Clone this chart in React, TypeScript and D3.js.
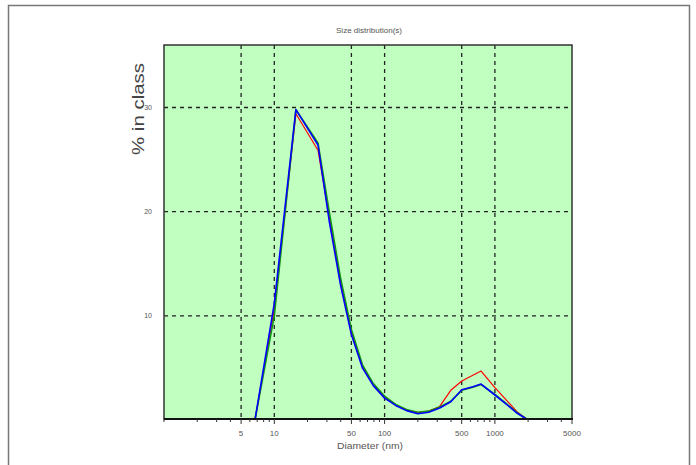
import React from "react";
import * as d3 from "d3";

const diameters = [6.68, 10, 15.7, 24.9, 31.6, 39.8, 50, 63, 79, 100, 126, 158, 200, 251, 316, 398, 501, 631, 750, 1000, 1259, 1585, 1995, 2512, 3000];
const redSeries: (number | null)[] = [0, 10.6, 29.4, 25.9, 19.4, 13.3, 8.4, 5.1, 3.4, 2.2, 1.45, 0.95, 0.7, 0.85, 1.3, 2.85, 3.75, 4.3, 4.7, 3.1, 1.95, 0.8, 0, 0, 0];
const greenSeries: (number | null)[] = [0, 10.0, 29.8, 26.6, 19.9, 13.7, 8.7, 5.3, 3.5, 2.3, 1.5, 1.0, 0.75, 0.85, 1.25, 1.8, 2.85, 3.15, 3.4, 2.45, 1.6, 0.7, 0, 0, null];
const blueSeries: (number | null)[] = [0, 11.2, 29.8, 26.4, 19.0, 13.0, 8.2, 5.0, 3.3, 2.1, 1.4, 0.9, 0.6, 0.75, 1.15, 1.75, 2.9, 3.2, 3.45, 2.4, 1.55, 0.67, 0, null, null];

const xTickLabels = [5, 10, 50, 100, 500, 1000, 5000];
const xGridValues = [5, 10, 50, 100, 500, 1000];
const yTickValues = [10, 20, 30];

const title = "Size distribution(s)";
const xTitle = "Diameter (nm)";
const yTitle = "% in class";

export default function App() {
  const W = 696, H = 465;
  const left = 164, right = 572, top = 45, bottom = 419;
  const x = d3.scaleLog().domain([1, 5000]).range([left, right]);
  const y = d3.scaleLinear().domain([0, 36]).range([420, top]);

  const minorTicks: number[] = [];
  for (let dec = 1; dec <= 1000; dec *= 10) {
    for (let m = 1; m <= 9; m++) {
      const v = dec * m;
      if (v >= 1 && v <= 5000) minorTicks.push(v);
    }
  }

  const mkLine = (vals: (number | null)[]) =>
    d3
      .line<number>()
      .defined((_, i) => vals[i] !== null)
      .x((d) => x(d))
      .y((_, i) => y(vals[i] as number))(diameters) || "";

  const font = "'Liberation Sans', Arial, sans-serif";
  const grey = "#555";

  return (
    <svg width={W} height={H} style={{ position: "absolute", left: 0, top: 0, background: "#fff" }}>
      <defs>
        <clipPath id="plotclip">
          <rect x={left} y={top} width={right - left} height={bottom - top + 1} />
        </clipPath>
      </defs>
      <rect x={8.5} y={5.5} width={681} height={480} fill="#fff" stroke="#777" strokeWidth={1.5} />
      <text x={369} y={33} textAnchor="middle" fontFamily={font} fontSize={8} fill={grey} textLength={66} lengthAdjust="spacingAndGlyphs">
        {title}
      </text>
      <rect x={left} y={top} width={right - left} height={bottom - top} fill="#c0ffc0" />
      {/* grid */}
      {xGridValues.map((v) => (
        <line key={"gx" + v} x1={x(v)} x2={x(v)} y1={top} y2={bottom} stroke="#222" strokeWidth={1.3} strokeDasharray="4,4" />
      ))}
      {yTickValues.map((v) => (
        <line key={"gy" + v} x1={left} x2={right} y1={y(v)} y2={y(v)} stroke="#222" strokeWidth={1.3} strokeDasharray="4,4" />
      ))}
      {/* series */}
      <g clipPath="url(#plotclip)" fill="none" strokeLinejoin="round">
        <path d={mkLine(redSeries)} stroke="#ff0000" strokeWidth={1.2} />
        <path d={mkLine(greenSeries)} stroke="#119911" strokeWidth={1.6} />
        <path d={mkLine(blueSeries)} stroke="#0000ff" strokeWidth={1.6} />
      </g>
      {/* frame */}
      <rect x={left} y={top} width={right - left} height={bottom - top} fill="none" stroke="#333" strokeWidth={1.5} />
      <line x1={left} x2={right + 1} y1={bottom} y2={bottom} stroke="#111" strokeWidth={1.8} />
      {/* x ticks */}
      {minorTicks.map((v) => {
        const major = xTickLabels.includes(v);
        return <line key={"t" + v} x1={x(v)} x2={x(v)} y1={bottom} y2={bottom + (major ? 5 : 3)} stroke="#333" strokeWidth={1} />;
      })}
      {xTickLabels.map((v) => (
        <text key={"xl" + v} x={x(v)} y={436} textAnchor="middle" fontFamily={font} fontSize={8} fill={grey}>
          {v}
        </text>
      ))}
      <text x={370} y={449} textAnchor="middle" fontFamily={font} fontSize={8.5} fill={grey} textLength={66} lengthAdjust="spacingAndGlyphs">
        {xTitle}
      </text>
      {yTickValues.map((v) => (
        <text key={"yl" + v} x={152} y={y(v) + 2.5} textAnchor="end" fontFamily={font} fontSize={7} fill={grey}>
          {v}
        </text>
      ))}
      <text
        transform={`translate(144,109) rotate(-90)`}
        textAnchor="middle"
        fontFamily={font}
        fontSize={17}
        fill="#444"
        textLength={92}
        lengthAdjust="spacingAndGlyphs"
      >
        {yTitle}
      </text>
    </svg>
  );
}
